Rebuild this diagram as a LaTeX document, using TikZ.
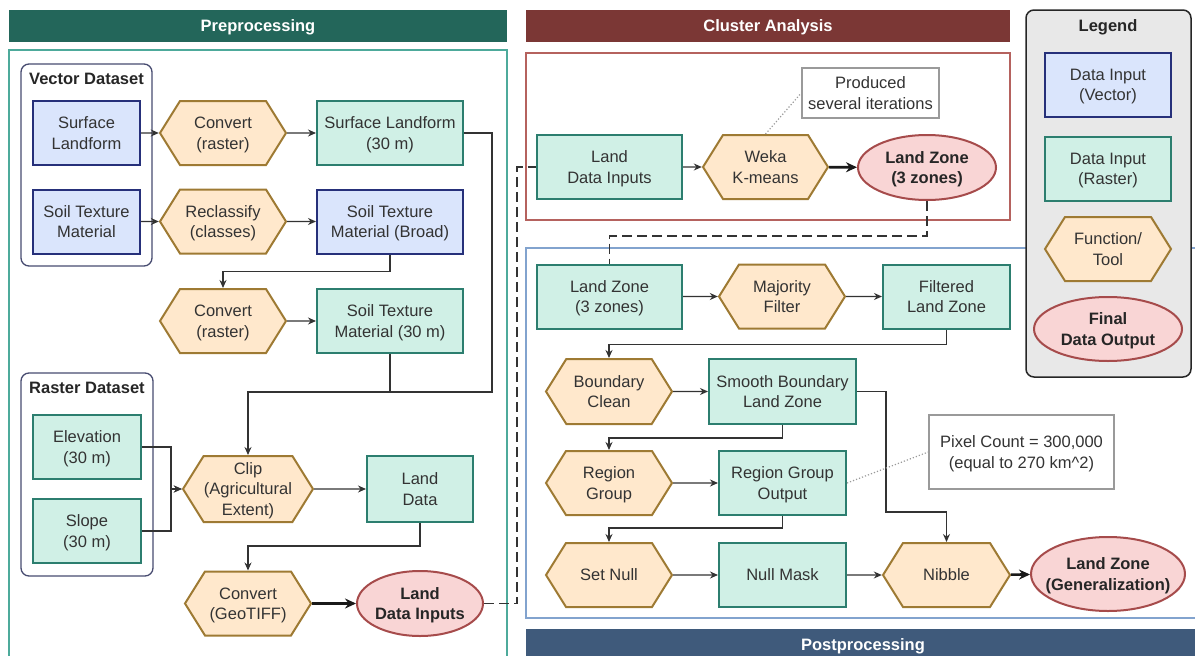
\documentclass[tikz,border=0pt]{standalone}
\usepackage{fontspec}
\setmainfont{Liberation Sans}
\usetikzlibrary{shapes.geometric,shapes.symbols,arrows.meta}
\definecolor{vecfill}{HTML}{DAE5FC}
\definecolor{vecline}{HTML}{26307A}
\definecolor{rasfill}{HTML}{D0F0E6}
\definecolor{rasline}{HTML}{2C7E6F}
\definecolor{hexfill}{HTML}{FFE8CC}
\definecolor{hexline}{HTML}{9E7A33}
\definecolor{outfill}{HTML}{F9D5D5}
\definecolor{outedge}{HTML}{A64B4B}
\definecolor{predark}{HTML}{23665A}
\definecolor{preframe}{HTML}{4DAA9B}
\definecolor{cludark}{HTML}{7B3735}
\definecolor{cluframe}{HTML}{B5625E}
\definecolor{postdark}{HTML}{3F5A7B}
\definecolor{postframe}{HTML}{82A3CE}
\definecolor{dsline}{HTML}{474B70}
\definecolor{legfill}{HTML}{E8E8E8}
\definecolor{notegray}{HTML}{9A9A9A}
\definecolor{txtgray}{HTML}{333333}
\begin{document}
\begin{tikzpicture}[x=1pt,y=-1pt,>={Stealth[length=8pt,width=7pt]},
    font=\fontsize{16.5}{20.5}\selectfont,
    every node/.style={align=center,text=txtgray,inner sep=0pt,text depth=0pt},
    vecbox/.style={draw=vecline,fill=vecfill,line width=2pt,minimum width=#1,minimum height=64pt},
    vecbox/.default=126pt,
    rasbox/.style={draw=rasline,fill=rasfill,line width=2pt,minimum width=#1,minimum height=64pt},
    rasbox/.default=127pt,
    hexbox/.style={signal,signal to=east and west,signal pointer angle=116,draw=hexline,fill=hexfill,line width=2pt,minimum width=#1,minimum height=64pt},
    hexbox/.default=126pt,
    outbox/.style={ellipse,draw=outedge,fill=outfill,line width=2pt,inner xsep=-12pt,minimum width=#1,minimum height=65pt,font=\fontsize{16.5}{20.5}\selectfont\bfseries,text=black!85},
    notebox/.style={draw=notegray,fill=white,line width=1.5pt},
    header/.style={text=white,font=\fontsize{16.5}{20}\selectfont\bfseries,minimum height=32pt},
    dslabel/.style={font=\fontsize{16.5}{20}\selectfont\bfseries,text=black!85},
    flow/.style={->,line width=1.3pt,draw=black!80},
    bigflow/.style={->,line width=2.6pt,draw=black!90,>={Stealth[length=11pt,width=10pt]}},
    link/.style={line width=1.5pt,dash pattern=on 10pt off 5pt,draw=black!80},
    memo/.style={draw=notegray,line width=1.2pt,dotted}]
    \useasboundingbox (0,0) rectangle (1195,656);
    \draw[preframe,line width=1.5pt] (9,50) rectangle (507,670);
    \draw[cluframe,line width=1.5pt] (526,53) rectangle (1010,220);
    \draw[postframe,line width=1.5pt] (526,248) rectangle (1205,618);
    \node[header,fill=predark,minimum width=498pt] (hpre) at (258,26) {Preprocessing};
    \node[header,fill=cludark,minimum width=484pt] (hclu) at (768,26) {Cluster Analysis};
    \node[header,fill=postdark,minimum width=674pt] (hpost) at (863,645) {Postprocessing};
    \draw[dsline,line width=1.3pt,rounded corners=8pt] (21,64) rectangle (152,266);
    \draw[dsline,line width=1.3pt,rounded corners=8pt] (21,373) rectangle (153,576);
    \node[dslabel] (vds) at (86.5,79) {Vector Dataset};
    \node[dslabel] (rds) at (87,388) {Raster Dataset};

    \node[vecbox=107pt] (sl) at (86.5,133) {Surface\\Landform};
    \node[vecbox=107pt] (stm) at (86.5,221.5) {Soil Texture\\Material};
    \node[hexbox] (cv1) at (223,133) {Convert\\(raster)};
    \node[hexbox] (rc) at (223,221.5) {Reclassify\\(classes)};
    \node[rasbox=146pt] (sl30) at (390,133) {Surface Landform\\(30 m)};
    \node[vecbox=146pt] (stmb) at (390,221.5) {Soil Texture\\Material (Broad)};
    \node[hexbox] (cv2) at (223,321) {Convert\\(raster)};
    \node[rasbox=146pt] (stm30) at (390,321) {Soil Texture\\Material (30 m)};
    \node[rasbox=108pt] (elev) at (87,447) {Elevation\\(30 m)};
    \node[rasbox=108pt] (slope) at (87,531) {Slope\\(30 m)};
    \node[hexbox=130pt,minimum height=66pt] (clip) at (248,489) {Clip\\(Agricultural\\Extent)};
    \node[rasbox=106pt,minimum height=66pt] (ld) at (420,489) {Land\\Data};
    \node[hexbox] (cvg) at (248,603.5) {Convert\\(GeoTIFF)};
    \node[outbox=126pt] (ldi) at (420,603.5) {Land\\Data Inputs};

    \draw[flow] (sl) -- (cv1);
    \draw[flow] (cv1) -- (sl30);
    \draw[flow] (stm) -- (rc);
    \draw[flow] (rc) -- (stmb);
    \draw[flow] (stmb.south) -- ++(0,17) -| (cv2.north);
    \draw[flow] (cv2) -- (stm30);
    \coordinate (j1) at (492,392);
    \draw[flow] (sl30.east) -| (j1) -| (clip.north);
    \draw[flow,-] (stm30.south) -- (stm30.south |- j1);
    \draw[flow] (elev.east) -- ++(29,0) |- (clip.west);
    \draw[flow] (slope.east) -- ++(29,0) |- (clip.west);
    \draw[flow] (clip) -- (ld);
    \draw[flow] (ld.south) -- ++(0,23) -| (cvg.north);
    \draw[bigflow] (cvg) -- (ldi);

    \node[rasbox=145pt] (ldc) at (609.5,167) {Land\\Data Inputs};
    \node[hexbox=125pt] (weka) at (765.5,167) {Weka\\K-means};
    \node[outbox=138pt] (lz3) at (927,167.5) {Land Zone\\(3 zones)};
    \node[notebox,minimum width=137pt,minimum height=50pt] (note1) at (870.5,93) {Produced\\several iterations};
    \draw[flow] (ldc) -- (weka);
    \draw[bigflow] (weka) -- (lz3);
    \draw[memo] (weka.north) -- (note1.west);
    \draw[link] (ldi.east) -- (517,603.5) |- (ldc.west);
    \draw[link] (lz3.south) -- ++(0,35) -| (609.5,265);

    \node[rasbox=145pt] (lzb) at (609.5,296.5) {Land Zone\\(3 zones)};
    \node[hexbox] (maj) at (782,296.5) {Majority\\Filter};
    \node[rasbox] (flz) at (946.5,296.5) {Filtered\\Land Zone};
    \node[hexbox,minimum height=65pt] (bc) at (609,391.5) {Boundary\\Clean};
    \node[rasbox=147pt,minimum height=65pt] (sblz) at (782.5,391.5) {Smooth Boundary\\Land Zone};
    \node[hexbox] (rg) at (609,483) {Region\\Group};
    \node[rasbox] (rgo) at (782.5,483) {Region Group\\Output};
    \node[hexbox] (sn) at (609,575) {Set Null};
    \node[rasbox] (nm) at (782.5,575) {Null Mask};
    \node[hexbox=127pt] (nib) at (946.5,575) {Nibble};
    \node[outbox=154pt,minimum height=74pt] (lzg) at (1108,574) {Land Zone\\(Generalization)};
    \node[notebox,minimum width=185pt,minimum height=74pt] (note2) at (1021.5,452) {Pixel Count = 300,000\\(equal to 270 km\^{}2)};

    \draw[flow] (lzb) -- (maj);
    \draw[flow] (maj) -- (flz);
    \draw[flow] (flz.south) -- ++(0,15) -| (bc.north);
    \draw[flow] (bc) -- (sblz);
    \draw[flow] (sblz.south) -- ++(0,13) -| (rg.north);
    \draw[flow] (rg) -- (rgo);
    \draw[flow] (rgo.south) -- ++(0,12) -| (sn.north);
    \draw[flow] (sn) -- (nm);
    \draw[flow] (nm) -- (nib);
    \draw[flow] (sblz.east) -- ++(29,0) |- ([yshift=30pt]nib.north) -- (nib.north);
    \draw[bigflow] (nib) -- (lzg);
    \draw[memo] (rgo.east) -- (note2.west);

    \draw[black!85,fill=legfill,line width=1.5pt,rounded corners=8pt] (1026,10) rectangle (1191,377);
    \node[dslabel] (legt) at (1108,26) {Legend};
    \node[vecbox] (lgv) at (1108,85) {Data Input\\(Vector)};
    \node[rasbox=126pt] (lgr) at (1108,169) {Data Input\\(Raster)};
    \node[hexbox] (lgf) at (1108,249) {Function/\\Tool};
    \node[outbox=148pt,minimum height=64pt] (lgo) at (1108,329) {Final\\Data Output};
\end{tikzpicture}
\end{document}
